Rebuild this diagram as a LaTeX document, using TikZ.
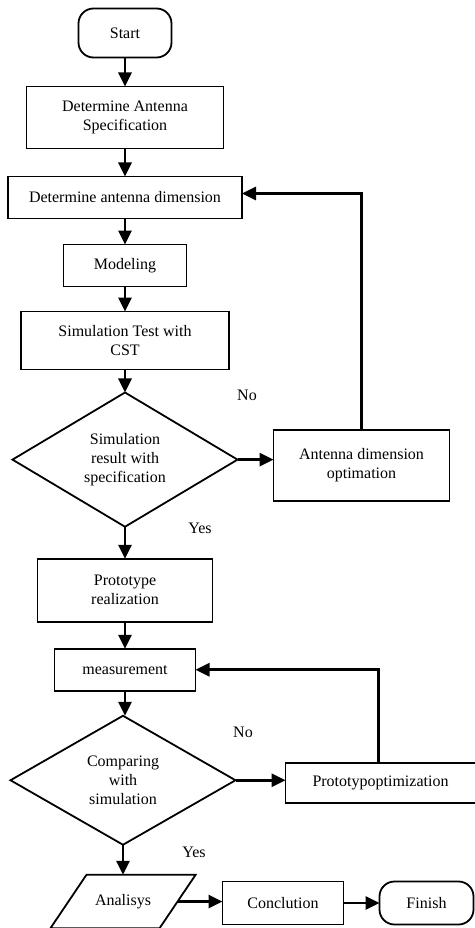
\documentclass[tikz,border=0pt]{standalone}
\usepackage{fontspec}
\setmainfont{Liberation Serif}
\usetikzlibrary{shapes,arrows.meta}
\usetikzlibrary{positioning}

\tikzset{
  base/.style={draw, line width=1.8pt, align=center, inner sep=2pt, outer sep=0pt,
    font=\fontsize{16}{19}\selectfont},
  process/.style={base, rectangle},
  terminal/.style={base, rectangle, rounded corners=15pt},
  decision/.style={base, diamond, inner sep=0pt},
  io/.style={base, trapezium, trapezium left angle=56, trapezium right angle=124,
    inner xsep=8.5pt, inner ysep=19.5pt},
  flow/.style={line width=2.8pt, -{Triangle[length=14pt,width=13pt]}},
  lbl/.style={font=\fontsize{16}{19}\selectfont, inner sep=0pt}
}

\begin{document}
\begin{tikzpicture}[node distance=27pt]
  \useasboundingbox (0,0) rectangle (474pt,-928pt);

  % main column
  \node[terminal, minimum width=93pt, minimum height=49pt] (start) at (125pt,-33pt) {Start};
  \node[process, minimum width=197pt, minimum height=62pt] (spec) [below=29pt of start]
    {Determine Antenna\\Specification};
  \node[process, minimum width=234pt, minimum height=42pt] (dim) [below=28pt of spec]
    {Determine antenna dimension};
  \node[process, minimum width=123pt, minimum height=42pt] (model) [below=26pt of dim]
    {Modeling};
  \node[process, minimum width=208pt, minimum height=58pt] (simtest) [below=25pt of model]
    {Simulation Test with\\CST};
  \node[decision, minimum width=225pt, minimum height=134pt] (check) [below=23pt of simtest]
    {Simulation\\result with\\specification};
  \node[process, minimum width=175pt, minimum height=63pt] (proto) [below=32pt of check]
    {Prototype\\realization};
  \node[process, minimum width=141pt, minimum height=42pt] (meas) [below=27pt of proto]
    {measurement};
  \node[decision, minimum width=225pt, minimum height=129pt] (compare) [below=25pt of meas, xshift=-2pt]
    {Comparing\\with\\simulation};
  \node[io] (anal) [below=30pt of compare]
    {Analisys};
  \node[process, minimum width=121pt, minimum height=43pt] (concl) at (283pt,-903pt)
    {Conclution};
  \node[terminal, minimum width=94pt, minimum height=43pt] (finish) [right=36pt of concl]
    {Finish};

  % side column
  \node[process, minimum width=176pt, minimum height=71pt] (dimopt) [right=36pt of check, yshift=-6pt]
    {Antenna dimension\\optimation};
  \node[process, minimum width=190pt, minimum height=40pt] (protoopt) [right=50pt of compare, yshift=-3pt]
    {Prototypoptimization};

  % labels
  \node[lbl] (no1)  at ([shift={(122pt,64pt)}]check.center) {No};
  \node[lbl] (yes1) at ([shift={(75pt,-69pt)}]check.center) {Yes};
  \node[lbl] (no2)  at ([shift={(120pt,48pt)}]compare.center) {No};
  \node[lbl] (yes2) at ([shift={(71pt,-72pt)}]compare.center) {Yes};

  % connectors
  \draw[flow] (start) -- (spec);
  \draw[flow] (spec) -- (dim);
  \draw[flow] (dim) -- (model);
  \draw[flow] (model) -- (simtest);
  \draw[flow] (simtest) -- (check);
  \draw[flow] (check.east) -- (check.east -| dimopt.west);
  \draw[flow] (dimopt.north) |- ([yshift=4pt]dim.east);
  \draw[flow] (check) -- (proto);
  \draw[flow] (proto) -- (meas);
  \draw[flow] (meas) -- (meas |- compare.north);
  \draw[flow] (compare.east) -- (compare.east -| protoopt.west);
  \draw[flow] ([xshift=-2pt]protoopt.north) |- (meas.east);
  \draw[flow] (compare) -- (compare |- anal.north);
  \draw[flow] (anal.east) -- (concl.west |- anal.east);
  \draw[flow] (concl) -- (finish);
\end{tikzpicture}
\end{document}
